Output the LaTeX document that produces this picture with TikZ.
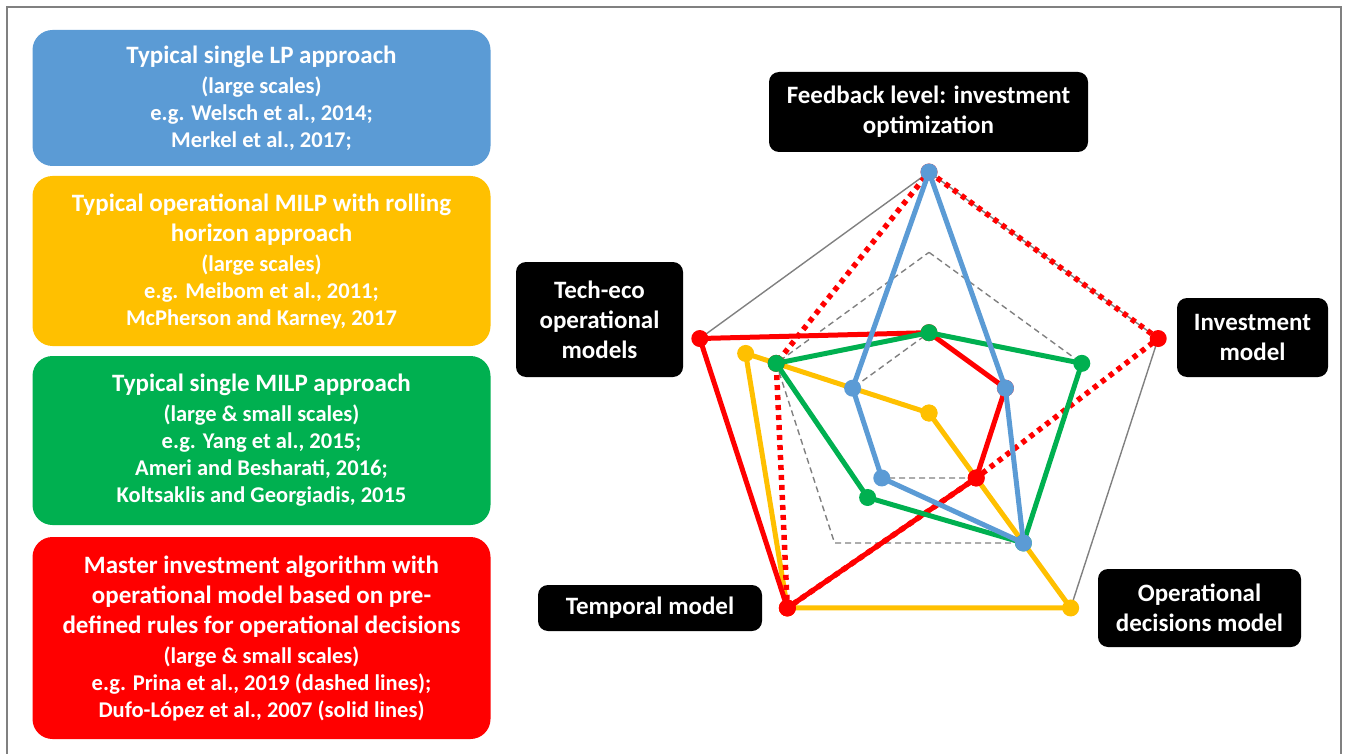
\documentclass[tikz,border=0pt]{standalone}
\usepackage{fontspec}
\setmainfont{Carlito}
\definecolor{lpblue}{HTML}{5B9BD5}
\definecolor{rhyellow}{HTML}{FFC000}
\definecolor{milpgreen}{HTML}{00B050}
\definecolor{mastred}{HTML}{FF0000}
\definecolor{gridgray}{HTML}{808080}
\tikzset{
  card/.style={rounded corners=20, minimum width=458, inner sep=0, text=white,
    align=center, font=\bfseries\fontsize{22.5}{27}\selectfont},
  tag/.style={fill=black, rounded corners=10, inner sep=0, text=white,
    align=center, font=\bfseries\fontsize{25}{30}\selectfont},
  grid/.style={draw=gridgray, line width=1.4pt},
  series/.style={line width=5pt, line join=round, line cap=round},
}
\begin{document}
\begin{tikzpicture}[x=1pt, y=-1pt]
  \useasboundingbox (0,0) rectangle (1346,754);
  \draw[gridgray, line width=2pt] (7,770) -- (7,7) -- (1341,7) -- (1341,770);

  % approaches
  \node[card, fill=lpblue, minimum height=136] (lp) at (261.5,98)
    {{\fontsize{25}{30}\selectfont Typical single LP approach}\\[3pt]
     (large scales)\\ e.g. Welsch et al., 2014;\\ Merkel et al., 2017;};
  \node[card, fill=rhyellow, minimum height=170] (rh) at (261.5,261)
    {{\fontsize{25}{30}\selectfont Typical operational MILP with rolling}\\[3pt]
     {\fontsize{25}{30}\selectfont horizon approach}\\[3pt]
     (large scales)\\ e.g. Meibom et al., 2011;\\ McPherson and Karney, 2017};
  \node[card, fill=milpgreen, minimum height=169] (milp) at (261.5,440.5)
    {{\fontsize{25}{30}\selectfont Typical single MILP approach}\\[3pt]
     (large \& small scales)\\ e.g. Yang et al., 2015;\\
     Ameri and Besharati, 2016;\\ Koltsaklis and Georgiadis, 2015};
  \node[card, fill=mastred, minimum height=202] (mast) at (261.5,638)
    {{\fontsize{25}{30}\selectfont Master investment algorithm with}\\[3pt]
     {\fontsize{25}{30}\selectfont operational model based on pre-}\\[3pt]
     {\fontsize{25}{30}\selectfont defined rules for operational decisions}\\[3pt]
     (large \& small scales)\\ e.g. Prina et al., 2019 (dashed lines);\\
     Dufo-López et al., 2007 (solid lines)};

  % axis labels
  \node[tag, minimum width=319, minimum height=80] (fb) at (928.5,112)
    {Feedback level: investment\\ optimization};
  \node[tag, minimum width=151, minimum height=79] (im) at (1252.5,337.5)
    {Investment\\ model};
  \node[tag, minimum width=203, minimum height=78] (od) at (1199.5,608)
    {Operational\\ decisions model};
  \node[tag, minimum width=224, minimum height=46] (tm) at (650,608)
    {Temporal model};
  \node[tag, minimum width=167, minimum height=115] (te) at (599.5,319.5)
    {Tech-eco\\ operational\\ models};

  \begin{scope}[shift={(929,413)}, x=80.33pt, y=80.33pt]
    % rings
    \draw[grid] (90:3) -- (18:3) -- (-54:3) -- (-126:3) -- (162:3) -- cycle;
    \foreach \r in {1,2}
      \draw[grid, dash pattern=on 6pt off 4pt]
        (90:\r) -- (18:\r) -- (-54:\r) -- (-126:\r) -- (162:\r) -- cycle;

    % data points
    \coordinate (y1) at (90:0);  \coordinate (y2) at (18:0);
    \coordinate (y3) at (-54:3); \coordinate (y4) at (-126:3);
    \coordinate (y5) at (162:2.4);
    \coordinate (d1) at (90:3);  \coordinate (d2) at (18:3);
    \coordinate (d3) at (-54:1); \coordinate (d4) at (-126:3);
    \coordinate (d5) at (162:2);
    \coordinate (r1) at (90:1);  \coordinate (r2) at (18:1);
    \coordinate (r3) at (-54:1); \coordinate (r4) at (-126:3);
    \coordinate (r5) at (162:3);
    \coordinate (g1) at (90:1);  \coordinate (g2) at (18:2);
    \coordinate (g3) at (-54:2); \coordinate (g4) at (-126:1.3);
    \coordinate (g5) at (162:2);
    \coordinate (b1) at (90:3);  \coordinate (b2) at (18:1);
    \coordinate (b3) at (-54:2); \coordinate (b4) at (-126:1);
    \coordinate (b5) at (162:1);
  \end{scope}

  \draw[series, rhyellow] (y1) -- (y2) -- (y3) -- (y4) -- (y5) -- cycle;
  \foreach \i in {1,...,5} \fill[rhyellow] (y\i) circle[radius=8.5pt];
  \draw[series, mastred, line width=5.5pt, line cap=butt, line join=miter,
    dash pattern=on 5pt off 5pt] (d1) -- (d2) -- (d3) -- (d4) -- (d5) -- cycle;
  \foreach \i in {1,...,5} \fill[mastred] (d\i) circle[radius=8.5pt];
  \draw[series, mastred] (r1) -- (r2) -- (r3) -- (r4) -- (r5) -- cycle;
  \foreach \i in {1,...,5} \fill[mastred] (r\i) circle[radius=8.5pt];
  \draw[series, milpgreen] (g1) -- (g2) -- (g3) -- (g4) -- (g5) -- cycle;
  \foreach \i in {1,...,5} \fill[milpgreen] (g\i) circle[radius=8.5pt];
  \draw[series, lpblue] (b1) -- (b2) -- (b3) -- (b4) -- (b5) -- cycle;
  \foreach \i in {1,...,5} \fill[lpblue] (b\i) circle[radius=8.5pt];
\end{tikzpicture}
\end{document}
